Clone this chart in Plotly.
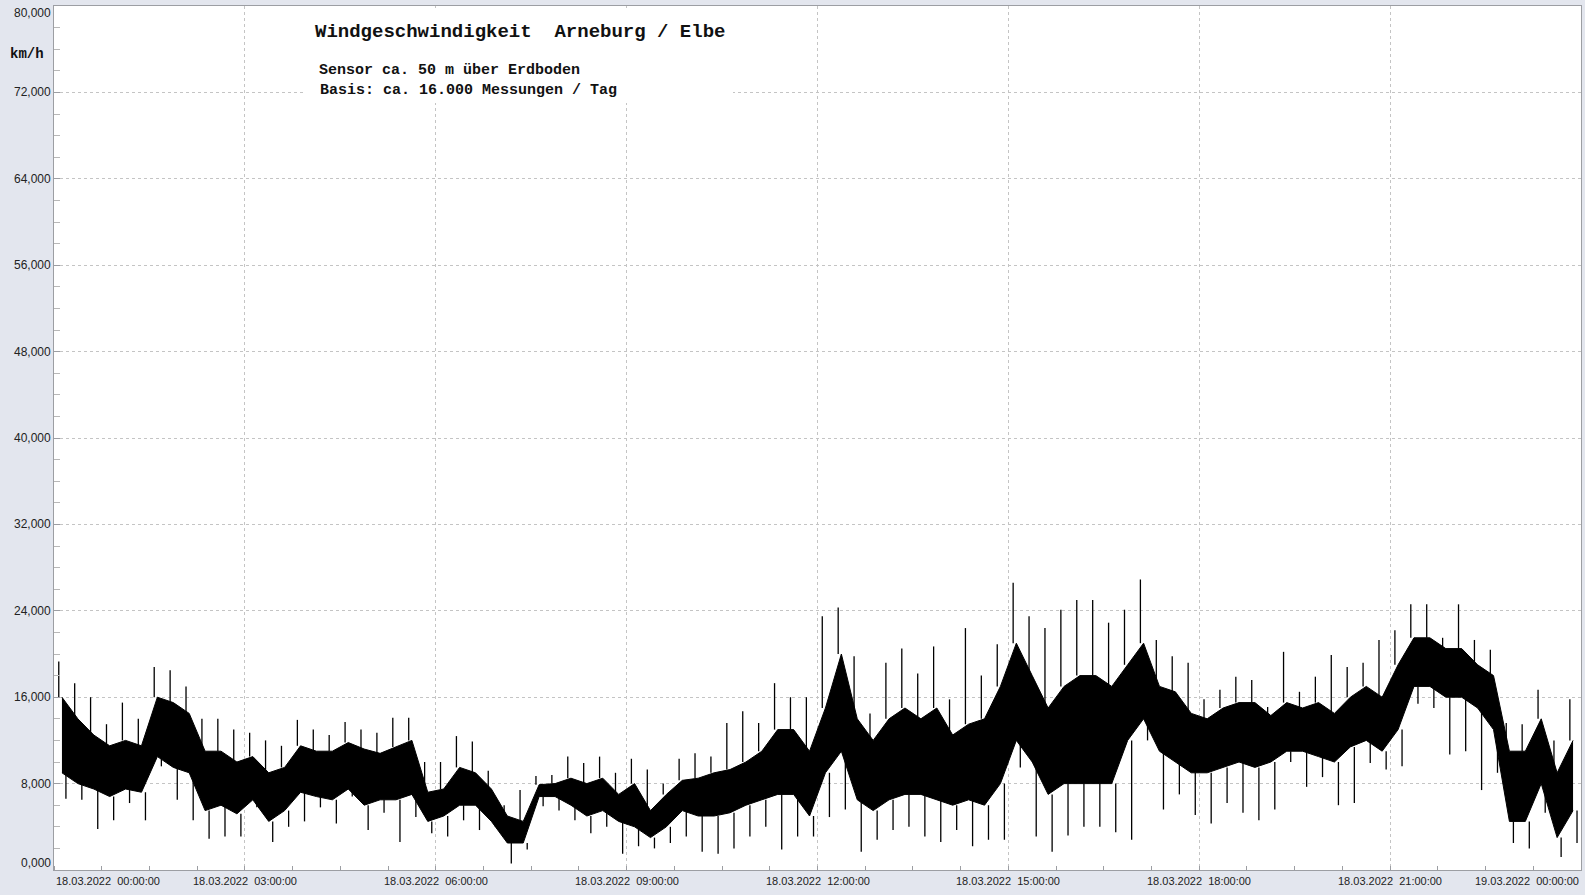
import pandas as pd
import plotly.graph_objects as go

# ---- data (km/h), 15-minute bins on 18.03.2022 ----
bin_start = "2022-03-18 00:00"
bin_minutes = 15

spike_hi = [19.3, 17.3, 16.0, 13.5, 15.5, 14.0, 18.8, 18.5, 17.0, 14.0, 14.0, 13.0,
            12.7, 12.0, 11.5, 13.9, 13.0, 12.5, 13.7, 13.0, 12.7, 14.1, 14.1, 10.0,
            10.0, 12.4, 11.9, 9.2, 6.0, 7.4, 8.7, 8.8, 10.5, 9.9, 10.5, 9.0,
            10.3, 9.3, 8.0, 10.3, 10.8, 10.5, 13.6, 14.7, 13.6, 17.3, 16.0, 16.0,
            23.5, 24.3, 19.8, 14.5, 19.2, 20.5, 18.2, 20.7, 15.8, 22.4, 18.0, 20.9,
            26.6, 23.5, 22.4, 24.1, 25.0, 25.0, 22.9, 24.1, 26.9, 21.3, 19.8, 19.2,
            15.8, 16.7, 17.9, 17.6, 15.1, 20.2, 16.5, 17.9, 19.9, 18.8, 19.2, 21.3,
            22.2, 24.6, 24.6, 21.5, 24.6, 21.3, 20.4, 13.6, 13.5, 16.7, 12.0, 15.8]

core_hi = [16, 14, 12.5, 11.5, 12, 11.5, 16, 15.5, 14.5, 11, 11, 10,
           10.5, 9, 9.5, 11.5, 11, 11, 11.8, 11.2, 10.8, 11.4, 12, 7.2,
           7.5, 9.5, 9, 7.5, 5, 4.5, 7.9, 8, 8.5, 8, 8.5, 7,
           8, 5.5, 7, 8.3, 8.5, 9, 9.3, 10, 11, 13, 13, 11,
           15, 20, 14, 12, 14, 15, 14, 15, 12.5, 13.5, 14, 17,
           21, 18, 15, 17, 18, 18, 17, 19, 21, 17, 16.5, 14.5,
           14, 15, 15.5, 15.5, 14.3, 15.5, 15, 15.5, 14.5, 16, 17, 16,
           19, 21.5, 21.5, 20.5, 20.5, 19, 18, 11, 11, 14, 9, 12]

core_lo = [9, 8, 7.5, 6.8, 7.5, 7.2, 10.5, 9.5, 9, 5.5, 6, 5.2,
           6.5, 4.5, 5.5, 7.2, 6.8, 6.5, 7.5, 6, 6.5, 6.5, 7, 4.5,
           5, 6, 6, 4.5, 2.5, 2.5, 6.8, 6.8, 6, 5, 5.5, 4.5,
           4, 3, 4, 5.5, 5, 5, 5.3, 6, 6.5, 7, 7, 5,
           9, 11, 6.5, 5.5, 6.5, 7, 7, 6.5, 6, 6.5, 6, 8,
           12, 10, 7, 8, 8, 8, 8, 12, 14, 11, 10, 9,
           9, 9.5, 10, 9.5, 10, 11, 11, 10.5, 10, 11.4, 12, 11,
           13, 17, 17, 16, 16, 15, 13, 4.5, 4.5, 8, 3, 5.5]

spike_lo = [6.6, 6.5, 3.8, 4.6, 6.2, 4.6, 9.6, 6.5, 4.6, 2.9, 3.1, 3.1,
            5.8, 2.6, 4.0, 4.5, 5.8, 4.3, 6.8, 3.7, 5.3, 2.6, 4.9, 3.4,
            3.1, 4.6, 3.7, 4.0, 0.6, 1.9, 5.9, 5.5, 4.6, 3.4, 4.0, 1.5,
            2.2, 2.0, 2.5, 3.1, 1.7, 1.5, 2.0, 3.1, 4.0, 1.9, 3.1, 3.1,
            4.9, 5.6, 1.7, 2.8, 3.7, 4.0, 3.1, 2.6, 3.7, 2.2, 2.8, 2.8,
            9.5, 3.1, 1.7, 3.2, 4.0, 4.0, 3.5, 2.8, 12.0, 5.6, 7.0, 5.1,
            4.3, 6.2, 5.3, 4.6, 5.6, 10.0, 7.7, 8.6, 6.0, 6.2, 9.9, 9.3,
            9.6, 15.4, 15.0, 10.7, 11.0, 7.4, 9.0, 2.5, 2.0, 5.3, 1.2, 2.5]

y_ticks = [0, 8, 16, 24, 32, 40, 48, 56, 64, 72, 80]
y_tick_labels = ["0,000", "8,000", "16,000", "24,000", "32,000", "40,000",
                 "48,000", "56,000", "64,000", "72,000", "80,000"]
x_ticks = ["2022-03-18 00:00", "2022-03-18 03:00", "2022-03-18 06:00",
           "2022-03-18 09:00", "2022-03-18 12:00", "2022-03-18 15:00",
           "2022-03-18 18:00", "2022-03-18 21:00", "2022-03-19 00:00"]
x_tick_labels = ["18.03.2022\u00a0 00:00:00", "18.03.2022\u00a0 03:00:00",
                 "18.03.2022\u00a0 06:00:00", "18.03.2022\u00a0 09:00:00",
                 "18.03.2022\u00a0 12:00:00", "18.03.2022\u00a0 15:00:00",
                 "18.03.2022\u00a0 18:00:00", "18.03.2022\u00a0 21:00:00",
                 "19.03.2022\u00a0 00:00:00"]

title = "Windgeschwindigkeit\u00a0 Arneburg / Elbe"
sub1 = "Sensor ca. 50 m über Erdboden"
sub2 = "Basis: ca. 16.000 Messungen / Tag"
unit = "km/h"

# ---- build ----
n = len(spike_hi)
t0 = pd.Timestamp(bin_start)
step = pd.Timedelta(minutes=bin_minutes)
centers = [t0 + step * (i + 0.5) for i in range(n)]

fig = go.Figure()

# dense core band of each bin
fig.add_trace(go.Scatter(x=centers, y=core_lo, mode="lines",
                         line=dict(color="black", width=1), hoverinfo="skip",
                         showlegend=False))
fig.add_trace(go.Scatter(x=centers, y=core_hi, mode="lines", fill="tonexty",
                         fillcolor="black", line=dict(color="black", width=1),
                         hoverinfo="skip", showlegend=False))

# gust spikes (bin maximum) and lull spikes (bin minimum)
sx, sy = [], []
for i in range(n):
    tu = t0 + step * (i + 0.3)
    td = t0 + step * (i + 0.75)
    sx += [tu, tu, None, td, td, None]
    sy += [core_hi[i], spike_hi[i], None, spike_lo[i], core_lo[i], None]
fig.add_trace(go.Scatter(x=sx, y=sy, mode="lines",
                         line=dict(color="black", width=1.3), hoverinfo="skip",
                         showlegend=False))

grid_col = "#c4c4c4"
frame_col = "#9c9ea3"

fig.update_xaxes(type="date", range=[x_ticks[0], x_ticks[-1]],
                 tickvals=x_ticks, showticklabels=False, ticks="",
                 showgrid=True, gridcolor=grid_col, griddash="3px,3px", gridwidth=1,
                 minor=dict(dtick=45 * 60 * 1000, ticks="inside", ticklen=4,
                            tickcolor=frame_col, showgrid=False),
                 showline=True, mirror=True, linecolor=frame_col, linewidth=1,
                 zeroline=False, fixedrange=True)
fig.update_yaxes(range=[0, 80], tickvals=y_ticks, showticklabels=False,
                 ticks="inside", ticklen=6, tickcolor=frame_col,
                 showgrid=True, gridcolor=grid_col, griddash="3px,3px", gridwidth=1,
                 minor=dict(dtick=2, ticks="inside", ticklen=6,
                            tickcolor="#b8b8b8", showgrid=False),
                 showline=True, mirror=True, linecolor=frame_col, linewidth=1,
                 zeroline=False, fixedrange=True)

ann = []
for v, lab in zip(y_ticks, y_tick_labels):
    ys = 0
    if v == 80:
        ys = -7
    elif v == 0:
        ys = 7
    ann.append(dict(x=0, xref="paper", y=v, yref="y", text=lab, showarrow=False,
                    xanchor="right", yanchor="middle", xshift=-1, yshift=ys,
                    font=dict(family="Liberation Sans, Arial", size=12, color="#222")))
for i, (tv, lab) in enumerate(zip(x_ticks, x_tick_labels)):
    xa = "center"
    if i == 0:
        xa = "left"
    elif i == len(x_ticks) - 1:
        xa = "right"
    ann.append(dict(x=tv, xref="x", y=0, yref="paper", text=lab, showarrow=False,
                    xanchor=xa, yanchor="top", yshift=-3,
                    font=dict(family="Liberation Sans, Arial", size=11, color="#222")))

mono = "Liberation Mono, Courier New, monospace"
ann.append(dict(x=(313 - 54) / 1527, xref="paper", y=(870 - 32) / 864, yref="paper",
                text="<b>" + title + "</b>", showarrow=False, xanchor="left",
                yanchor="middle", font=dict(family=mono, size=19, color="#111")))
ann.append(dict(x=(316.5 - 54) / 1527, xref="paper", y=(870 - 70) / 864, yref="paper",
                text="<b>" + sub1 + "</b>", showarrow=False, xanchor="left",
                yanchor="middle", font=dict(family=mono, size=15, color="#111")))
ann.append(dict(x=(318 - 54) / 1527, xref="paper", y=(870 - 90.5) / 864, yref="paper",
                text="<b>" + sub2 + "</b>", showarrow=False, xanchor="left",
                yanchor="middle", font=dict(family=mono, size=15, color="#111")))
ann.append(dict(x=(8 - 54) / 1527, xref="paper", y=(870 - 54) / 864, yref="paper",
                text="<b>" + unit + "</b>", showarrow=False, xanchor="left",
                yanchor="middle", font=dict(family=mono, size=14, color="#111")))

shapes = [dict(type="rect", xref="paper", yref="paper",
               x0=(303 - 54) / 1527, x1=(733 - 54) / 1527,
               y0=(870 - 103) / 864, y1=(870 - 8) / 864,
               fillcolor="white", line=dict(width=0), layer="above")]

fig.update_layout(width=1585, height=895,
                  margin=dict(l=54, r=4, t=6, b=25, pad=0),
                  paper_bgcolor="#e3e6ee", plot_bgcolor="white",
                  annotations=ann, shapes=shapes, showlegend=False)

fig.write_html("out.html", config={"displayModeBar": False, "staticPlot": True},
               post_script="document.body.style.margin='0';")
